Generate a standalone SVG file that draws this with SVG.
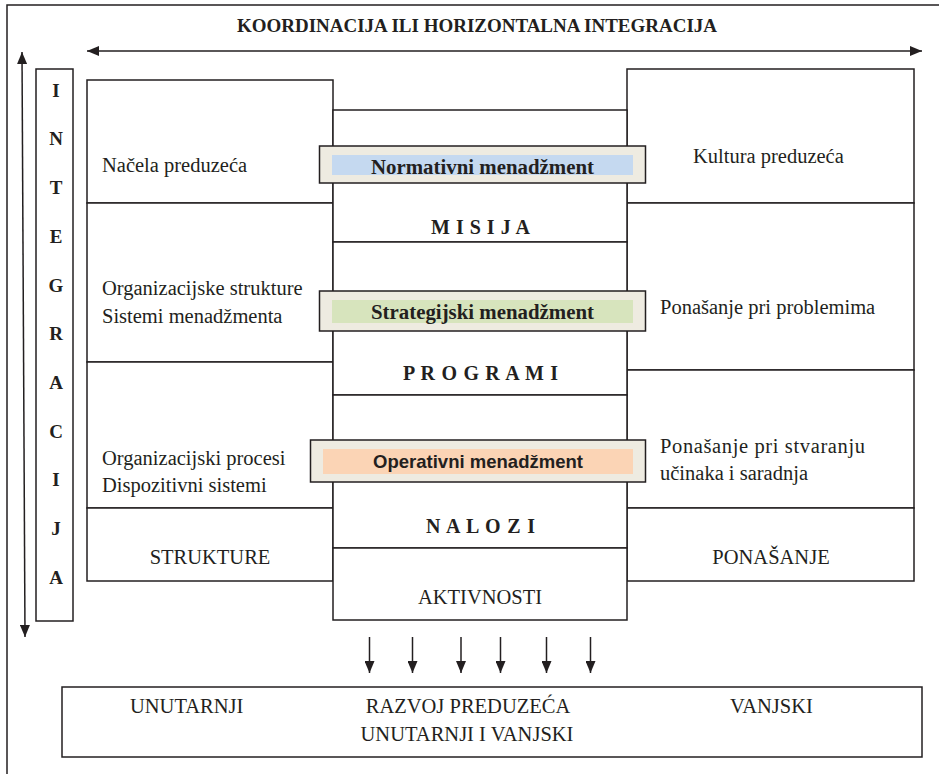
<svg xmlns="http://www.w3.org/2000/svg" width="939" height="774" viewBox="0 0 939 774">
<defs>
<style>
.box{fill:#fff;stroke:#231f20;stroke-width:1.5}
.t{font-family:"Liberation Serif","Times New Roman",serif;font-size:20.5px;fill:#231f20}
.b{font-family:"Liberation Serif","Times New Roman",serif;font-weight:bold;fill:#231f20}
.s{font-family:"Liberation Sans",Arial,sans-serif;font-weight:bold;font-size:18.5px;fill:#231f20}
.bar{fill:#eeebe1;stroke:#231f20;stroke-width:1.5}
.arr{stroke:#231f20;stroke-width:1.5;fill:none;marker-end:url(#ah)}
.arr2{stroke:#231f20;stroke-width:1.5;fill:none;marker-start:url(#ah);marker-end:url(#ah)}
</style>
<marker id="ah" viewBox="0 0 12 10" refX="12" refY="5" markerWidth="12" markerHeight="10" markerUnits="userSpaceOnUse" orient="auto-start-reverse">
<path d="M0,0 L12,5 L0,10 z" fill="#231f20"/>
</marker>
</defs>
<rect width="939" height="774" fill="#fff"/>
<rect id="frame" x="7" y="5" width="945" height="785" class="box" fill="none"/>

<g id="title">
<text class="b" x="237" y="32" font-size="18.5" textLength="480" lengthAdjust="spacingAndGlyphs">KOORDINACIJA ILI HORIZONTALNA INTEGRACIJA</text>
</g>

<g id="integracija">
<rect class="box" x="36" y="69" width="37" height="552"/>
<g class="b" font-size="19" text-anchor="middle">
<text x="56" y="97">I</text>
<text x="56" y="145">N</text>
<text x="56" y="194">T</text>
<text x="56" y="243">E</text>
<text x="56" y="292">G</text>
<text x="56" y="340">R</text>
<text x="56" y="389">A</text>
<text x="56" y="438">C</text>
<text x="56" y="486">I</text>
<text x="56" y="535">J</text>
<text x="56" y="584">A</text>
</g>
</g>

<g id="left-column">
<g id="nacela"><rect class="box" x="87" y="80" width="246" height="123"/><text class="t" x="102" y="172">Načela preduzeća</text></g>
<g id="org-strukture"><rect class="box" x="87" y="203" width="246" height="159"/><text class="t" x="102" y="295">Organizacijske strukture</text><text class="t" x="102" y="323">Sistemi menadžmenta</text></g>
<g id="org-procesi"><rect class="box" x="87" y="362" width="246" height="146"/><text class="t" x="102" y="465">Organizacijski procesi</text><text class="t" x="102" y="492">Dispozitivni sistemi</text></g>
<g id="strukture"><rect class="box" x="87" y="508" width="246" height="73"/><text class="t" x="210" y="564" text-anchor="middle">STRUKTURE</text></g>
</g>

<g id="right-column">
<g id="kultura"><rect class="box" x="627" y="69" width="287" height="134"/><text class="t" x="693" y="163">Kultura preduzeća</text></g>
<g id="problemi"><rect class="box" x="627" y="203" width="287" height="167"/><text class="t" x="660" y="314">Ponašanje pri problemima</text></g>
<g id="stvaranje"><rect class="box" x="627" y="370" width="287" height="138"/><text class="t" x="660" y="453" textLength="205" lengthAdjust="spacing">Ponašanje pri stvaranju</text><text class="t" x="660" y="480">učinaka i saradnja</text></g>
<g id="ponasanje"><rect class="box" x="627" y="508" width="287" height="73"/><text class="t" x="771" y="564" text-anchor="middle">PONAŠANJE</text></g>
</g>

<g id="center-column">
<g id="misija"><rect class="box" x="333" y="110" width="294" height="132"/><text class="b" font-size="20" x="480.5" y="234" text-anchor="middle" textLength="99" lengthAdjust="spacing">M I S I J A</text></g>
<g id="programi"><rect class="box" x="333" y="242" width="294" height="153"/><text class="b" font-size="20" x="480.5" y="380" text-anchor="middle" textLength="155" lengthAdjust="spacing">P R O G R A M I</text></g>
<g id="nalozi"><rect class="box" x="333" y="395" width="294" height="153"/><text class="b" font-size="20" x="480.5" y="533" text-anchor="middle" textLength="109" lengthAdjust="spacing">N A L O Z I</text></g>
<g id="aktivnosti"><rect class="box" x="333" y="548" width="294" height="72"/><text class="t" x="480" y="604" text-anchor="middle">AKTIVNOSTI</text></g>
</g>

<g id="normativni">
<rect class="bar" x="319.5" y="146" width="326" height="37"/>
<rect x="332" y="155" width="301" height="20" fill="#c5d9f0"/>
<text class="b" font-size="20.5" x="371" y="174" textLength="223" lengthAdjust="spacingAndGlyphs">Normativni menadžment</text>
</g>
<g id="strategijski">
<rect class="bar" x="319.5" y="291" width="326" height="40"/>
<rect x="332" y="300" width="301" height="23" fill="#d7e4bd"/>
<text class="b" font-size="20.5" x="371" y="319" textLength="223" lengthAdjust="spacingAndGlyphs">Strategijski menadžment</text>
</g>
<g id="operativni">
<rect class="bar" x="310.5" y="440" width="335" height="42"/>
<rect x="323" y="449" width="310" height="25" fill="#fbd4b5"/>
<text class="s" x="373" y="468" textLength="210" lengthAdjust="spacingAndGlyphs">Operativni menadžment</text>
</g>

<g id="razvoj">
<rect class="box" x="62" y="687" width="860" height="70"/>
<text class="t" x="130" y="713">UNUTARNJI</text>
<text class="t" x="468" y="713" text-anchor="middle">RAZVOJ PREDUZEĆA</text>
<text class="t" x="467" y="741" text-anchor="middle">UNUTARNJI I VANJSKI</text>
<text class="t" x="730" y="713">VANJSKI</text>
</g>

<g id="connectors">
<line class="arr2" x1="87" y1="51" x2="922" y2="51"/>
<line class="arr2" x1="22" y1="52" x2="25" y2="637"/>
<line class="arr" x1="369.5" y1="637" x2="369.5" y2="673"/>
<line class="arr" x1="412.5" y1="637" x2="412.5" y2="673"/>
<line class="arr" x1="461" y1="637" x2="461" y2="673"/>
<line class="arr" x1="500.5" y1="637" x2="500.5" y2="673"/>
<line class="arr" x1="546.5" y1="637" x2="546.5" y2="673"/>
<line class="arr" x1="590.5" y1="637" x2="590.5" y2="673"/>
</g>
</svg>
